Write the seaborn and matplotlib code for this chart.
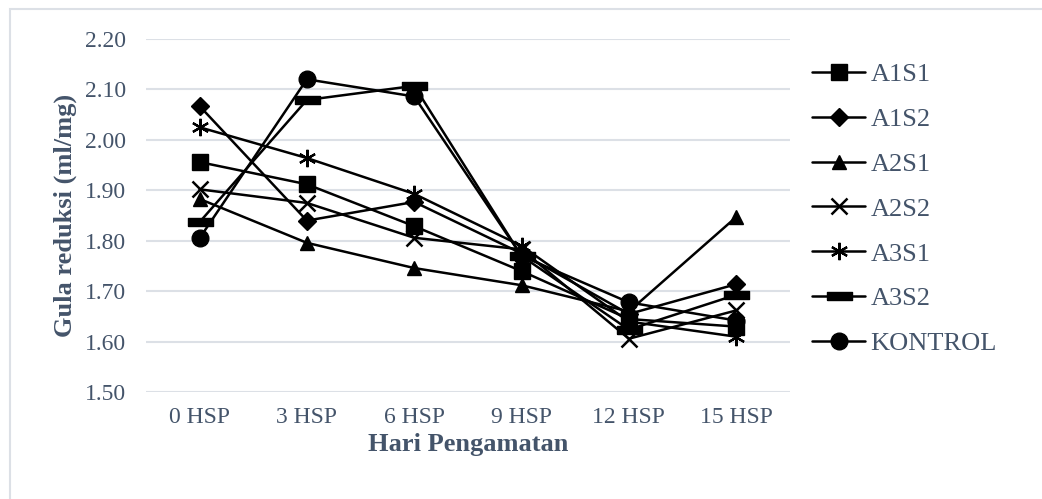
import numpy as np
import pandas as pd
import matplotlib
matplotlib.use("Agg")
import matplotlib.pyplot as plt
from matplotlib.patches import Rectangle
import seaborn as sns

days = ["0 HSP", "3 HSP", "6 HSP", "9 HSP", "12 HSP", "15 HSP"]
a1s1 = [1.956, 1.912, 1.829, 1.740, 1.645, 1.630]
a1s2 = [2.067, 1.840, 1.877, 1.775, 1.655, 1.714]
a2s1 = [1.883, 1.796, 1.746, 1.712, 1.660, 1.847]
a2s2 = [1.902, 1.875, 1.806, 1.783, 1.606, 1.662]
a3s1 = [2.025, 1.964, 1.893, 1.790, 1.640, 1.610]
a3s2 = [1.837, 2.079, 2.107, 1.770, 1.624, 1.693]
kontrol = [1.805, 2.120, 2.086, 1.770, 1.678, 1.642]

series = {
    "A1S1": a1s1,
    "A1S2": a1s2,
    "A2S1": a2s1,
    "A2S2": a2s2,
    "A3S1": a3s1,
    "A3S2": a3s2,
    "KONTROL": kontrol,
}

sns.set_theme(style="white")
plt.rcParams["font.family"] = ["Liberation Serif", "DejaVu Serif"]
text_color = "#44546A"
grid_color = "#DCE0E6"

bar_marker = [(-1, -0.28), (1, -0.28), (1, 0.28), (-1, 0.28), (-1, -0.28)]
marker_map = {
    "A1S1": "s",
    "A1S2": "D",
    "A2S1": "^",
    "A2S2": "x",
    "A3S1": (6, 2, 0),
    "A3S2": bar_marker,
    "KONTROL": "o",
}
sizes = {"A1S1": 11, "A1S2": 9.5, "A2S1": 10, "A2S2": 11, "A3S1": 12.5,
         "A3S2": 18, "KONTROL": 12}
edge = {"A2S2": 1.8, "A3S1": 1.6}

fig = plt.figure(figsize=(10.42, 4.99), dpi=100)
ax = fig.add_axes([0.140, 0.214, 0.618, 0.708])

for name, vals in series.items():
    d = pd.DataFrame({"Hari": days, "Nilai": vals})
    sns.lineplot(
        data=d, x="Hari", y="Nilai", sort=False, color="black",
        linewidth=1.8, marker=marker_map[name], markersize=sizes[name],
        markerfacecolor="black", markeredgecolor="black",
        markeredgewidth=edge.get(name, 1.0), ax=ax, label=name,
    )

ax.set_ylim(1.50, 2.20)
ticks = np.arange(1.50, 2.201, 0.10)
ax.set_yticks(ticks)
ax.set_yticklabels([f"{t:.2f}" for t in ticks])
ax.set_xlim(-0.5, 5.5)
ax.yaxis.grid(True, color=grid_color, linewidth=1.5)
ax.xaxis.grid(False)
for s in ["top", "right", "left", "bottom"]:
    ax.spines[s].set_visible(False)
ax.tick_params(axis="both", length=0, colors=text_color, labelsize=17)
ax.tick_params(axis="y", pad=14)
ax.tick_params(axis="x", pad=11)

ax.set_xlabel("Hari Pengamatan", fontsize=19, fontweight="bold",
              color=text_color, labelpad=3)
ax.set_ylabel("Gula reduksi (ml/mg)", fontsize=19, fontweight="bold",
              color=text_color, labelpad=6)

handles, labels = ax.get_legend_handles_labels()
leg = ax.legend(handles, labels, loc="upper left", bbox_to_anchor=(0.998, 1.0),
                frameon=False, fontsize=19, labelspacing=0.81,
                handlelength=2.0, handletextpad=0.2, labelcolor=text_color)

fig.patches.append(Rectangle((0.0096, -0.02), 0.995, 1.002, transform=fig.transFigure,
                             fill=False, edgecolor=grid_color, linewidth=1.5))

fig.savefig("out.png", dpi=100, facecolor="white")
